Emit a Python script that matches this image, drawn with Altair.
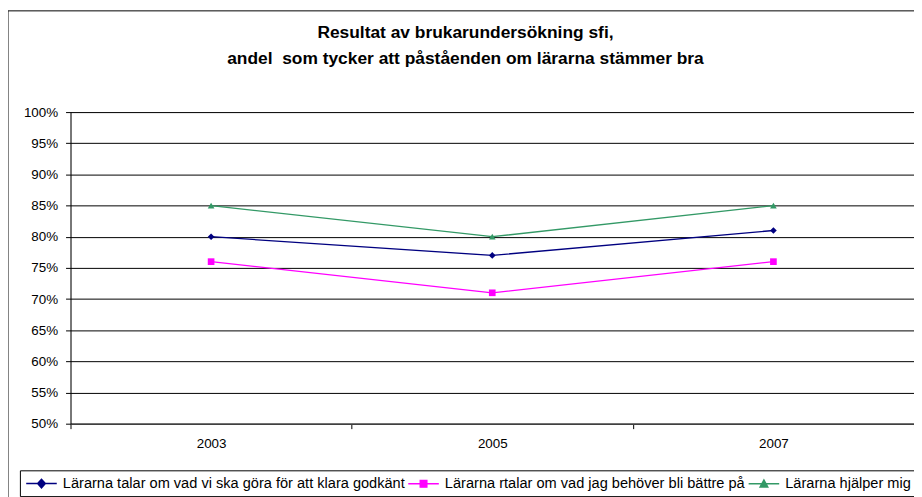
import altair as alt
import pandas as pd

years = ["2003", "2005", "2007"]
series_names = [
    "Lärarna talar om vad vi ska göra för att klara godkänt",
    "Lärarna rtalar om vad jag behöver bli bättre på",
    "Lärarna hjälper mig",
]
s1 = [0.80, 0.77, 0.81]
s2 = [0.76, 0.71, 0.76]
s3 = [0.85, 0.80, 0.85]
colors = ["#000080", "#FF00FF", "#339966"]
marker_shapes = ["diamond", "square", "triangle-up"]
y_ticks = [0.50, 0.55, 0.60, 0.65, 0.70, 0.75, 0.80, 0.85, 0.90, 0.95, 1.00]

rows = []
for name, vals in zip(series_names, [s1, s2, s3]):
    for yr, v in zip(years, vals):
        rows.append({"year": yr, "series": name, "value": v})
df = pd.DataFrame(rows)

FONT = "Liberation Sans"

# legend symbols: a short line with the marker in the middle (unit = 7px)
legend_paths = [
    "M-2.2,0H2.2M-0.55,0L0,-0.6L0.55,0L0,0.6Z",
    "M-2.2,0H2.2M-0.47,-0.47H0.47V0.47H-0.47Z",
    "M-2.2,0H2.2M-0.55,0.45L0,-0.55L0.55,0.45Z",
]

x_enc = alt.X(
    "year:O",
    title=None,
    scale=alt.Scale(paddingInner=0, paddingOuter=0),
    axis=alt.Axis(
        labelAngle=0, tickBand="extent", tickSize=5, tickColor="black",
        domainColor="#404040", domainWidth=1.5, labelFont=FONT, labelFontSize=13.5,
        labelColor="black", labelPadding=8, grid=False,
    ),
)
y_enc = alt.Y(
    "value:Q",
    title=None,
    scale=alt.Scale(domain=[0.5, 1.0], nice=False, zero=False),
    axis=alt.Axis(
        values=y_ticks, format=".0%", tickSize=5, tickColor="black",
        domainColor="black", labelFont=FONT, labelFontSize=13.5, labelColor="black",
        labelPadding=8, gridColor="black", gridWidth=1, gridOpacity=1,
    ),
)

color_scale = alt.Scale(domain=series_names, range=colors)

base = alt.Chart(df)

lines = base.mark_line(strokeWidth=1.3).encode(
    x=x_enc, y=y_enc,
    color=alt.Color("series:N", scale=color_scale, legend=None),
    detail="series:N",
)

point_layers = []
for name, shp, col in zip(series_names, marker_shapes, colors):
    point_layers.append(
        base.transform_filter(alt.datum.series == name)
        .mark_point(filled=True, shape=shp, size=45, color=col, opacity=1)
        .encode(x=x_enc, y=y_enc)
    )

leg = dict(
    title=None, orient="none", legendX=-51, legendY=361, direction="horizontal",
    columns=3, strokeColor="black", fillColor="white", padding=5,
    labelFont=FONT, labelFontSize=14.7, labelColor="black",
    labelOffset=13.5, symbolOffset=8.75,
    symbolSize=196, symbolStrokeWidth=1.5, symbolOpacity=1, columnPadding=0,
    labelLimit=500,
)

legend_layer = base.mark_point(filled=True, size=1, strokeWidth=1.5).encode(
    x=x_enc, y=y_enc,
    fill=alt.Fill("series:N", scale=alt.Scale(domain=series_names, range=colors),
                  legend=alt.Legend(**leg)),
    stroke=alt.Stroke("series:N", scale=alt.Scale(domain=series_names, range=colors),
                      legend=alt.Legend(**leg)),
    shape=alt.Shape("series:N", scale=alt.Scale(domain=series_names, range=legend_paths),
                    legend=alt.Legend(**leg)),
)

border = alt.Chart(pd.DataFrame({"k": [0]})).mark_rect(
    fillOpacity=0, stroke="black", strokeWidth=1
).encode(
    x=alt.value(-63), x2=alt.value(900), y=alt.value(-102), y2=alt.value(420)
)

chart = alt.layer(border, legend_layer, lines, *point_layers).properties(
    width=850,
    height=314,
    autosize=alt.AutoSizeParams(type="none"),
    padding={"left": 63, "top": 103, "right": 0, "bottom": 72},
    title=alt.Title(
        ["Resultat av brukarundersökning sfi,",
         "andel \u00a0som tycker att påståenden om lärarna stämmer bra"],
        font=FONT, fontSize=17.5, fontWeight="bold", color="black",
        lineHeight=27, anchor="middle", dx=-27, offset=-58,
    ),
).configure_view(stroke="#808080", strokeWidth=1).configure(background="white")

chart.save("out.html", embed_options={"renderer": "svg", "actions": False})
